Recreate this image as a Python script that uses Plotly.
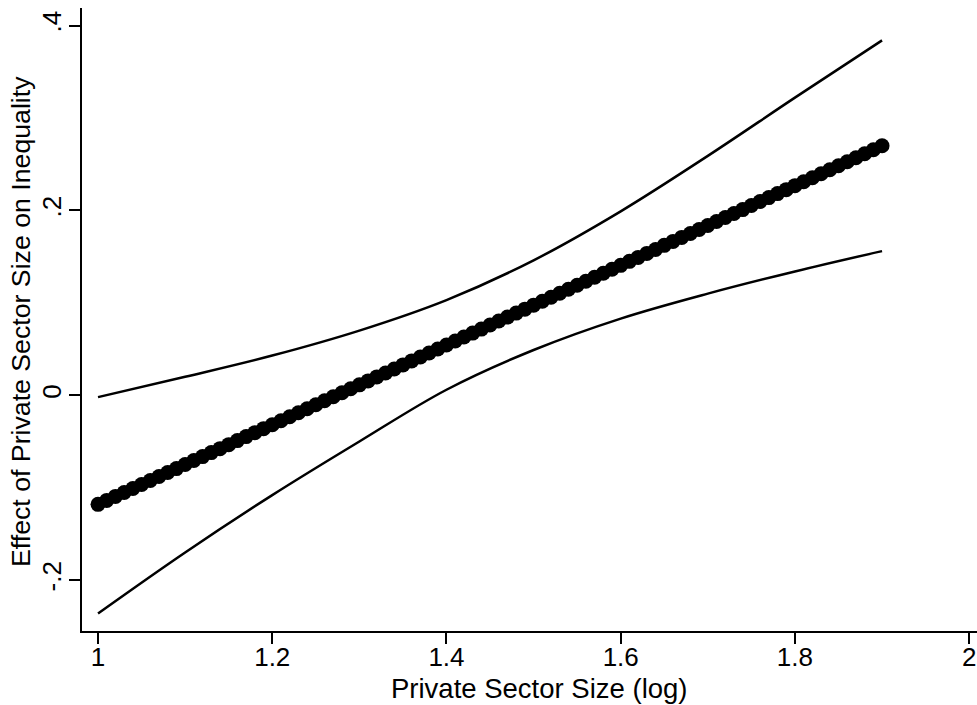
import numpy as np
import plotly.graph_objects as go

# Central estimate (marginal effect) at x = 1.00, 1.01, ..., 1.90
x_mid = [round(1 + 0.01 * i, 2) for i in range(91)]
effect = [
    -0.1180, -0.1137, -0.1094, -0.1051, -0.1008, -0.0965, -0.0922, -0.0879, -0.0836, -0.0793,
    -0.0749, -0.0706, -0.0663, -0.0620, -0.0577, -0.0534, -0.0490, -0.0447, -0.0404, -0.0361,
    -0.0318, -0.0275, -0.0232, -0.0189, -0.0146, -0.0103, -0.0059, -0.0016, 0.0027, 0.0070,
    0.0113, 0.0156, 0.0199, 0.0242, 0.0285, 0.0329, 0.0372, 0.0415, 0.0458, 0.0501,
    0.0544, 0.0587, 0.0630, 0.0673, 0.0716, 0.0760, 0.0803, 0.0846, 0.0889, 0.0932,
    0.0975, 0.1018, 0.1061, 0.1104, 0.1147, 0.1191, 0.1234, 0.1277, 0.1320, 0.1363,
    0.1406, 0.1449, 0.1492, 0.1535, 0.1578, 0.1622, 0.1665, 0.1708, 0.1751, 0.1794,
    0.1837, 0.1880, 0.1923, 0.1966, 0.2009, 0.2053, 0.2096, 0.2139, 0.2182, 0.2225,
    0.2268, 0.2311, 0.2354, 0.2397, 0.2440, 0.2484, 0.2527, 0.2570, 0.2613, 0.2656,
    0.2699,
]

# Confidence bands
x_band = [1.0, 1.1, 1.2, 1.3, 1.4, 1.5, 1.6, 1.7, 1.8, 1.9]
upper = [-0.002, 0.020, 0.043, 0.070, 0.103, 0.146, 0.199, 0.259, 0.322, 0.384]
lower = [-0.236, -0.170, -0.108, -0.050, 0.006, 0.049, 0.083, 0.110, 0.134, 0.156]

x_ticks = [1, 1.2, 1.4, 1.6, 1.8, 2]
x_ticktext = ["1", "1.2", "1.4", "1.6", "1.8", "2"]
y_ticks = [-0.2, 0, 0.2, 0.4]
y_ticktext = ["-.2", "0", ".2", ".4"]

x_title = "Private Sector Size (log)"
y_title = "Effect of Private Sector Size on Inequality"

FONT = "Liberation Sans, Arial, Helvetica, sans-serif"
W, H = 977, 705
L, R, T, B = 82, 0, 8, 74
PW, PH = W - L - R, H - T - B

fig = go.Figure()
fig.add_trace(go.Scatter(x=x_band, y=upper, mode="lines",
                         line=dict(color="black", width=2.5, shape="spline"),
                         showlegend=False, hoverinfo="skip"))
fig.add_trace(go.Scatter(x=x_band, y=lower, mode="lines",
                         line=dict(color="black", width=2.5, shape="spline"),
                         showlegend=False, hoverinfo="skip"))
fig.add_trace(go.Scatter(x=x_mid, y=effect, mode="markers",
                         marker=dict(color="black", size=15, line=dict(width=0)),
                         showlegend=False))

fig.update_layout(
    width=W, height=H,
    margin=dict(l=L, r=R, t=T, b=B, autoexpand=False),
    paper_bgcolor="white", plot_bgcolor="white",
    font=dict(family=FONT, size=26, color="black"),
    xaxis=dict(
        range=[0.9816, 2.009], tickvals=x_ticks, ticktext=x_ticktext,
        showgrid=False, zeroline=False, showline=True, linecolor="black", linewidth=1.6,
        ticks="outside", ticklen=11, tickwidth=1.6, tickcolor="black",
        tickfont=dict(size=26), automargin=False, ticklabelstandoff=-9,
    ),
    yaxis=dict(
        range=[-0.255, 0.419], tickvals=y_ticks, ticktext=y_ticktext,
        showgrid=False, zeroline=False, showline=True, linecolor="black", linewidth=1.6,
        ticks="outside", ticklen=11, tickwidth=1.6, tickcolor="black",
        tickangle=-90, tickfont=dict(size=26), automargin=False, ticklabelstandoff=-2,
    ),
    annotations=[
        dict(text=x_title, xref="paper", yref="paper",
             x=(539 - L) / PW, y=(H - B - 688) / PH,
             xanchor="center", yanchor="middle", showarrow=False,
             font=dict(size=27.5)),
        dict(text=y_title, xref="paper", yref="paper",
             x=(21 - L) / PW, y=(H - B - 322) / PH, textangle=-90,
             xanchor="center", yanchor="middle", showarrow=False,
             font=dict(size=26.7)),
    ],
)

# Remove the page's default body margin so the 977x705 figure fills the window exactly.
fig.write_html("out.html",
               config={"displayModeBar": False},
               post_script="document.body.style.margin='0';document.body.style.overflow='hidden';")
